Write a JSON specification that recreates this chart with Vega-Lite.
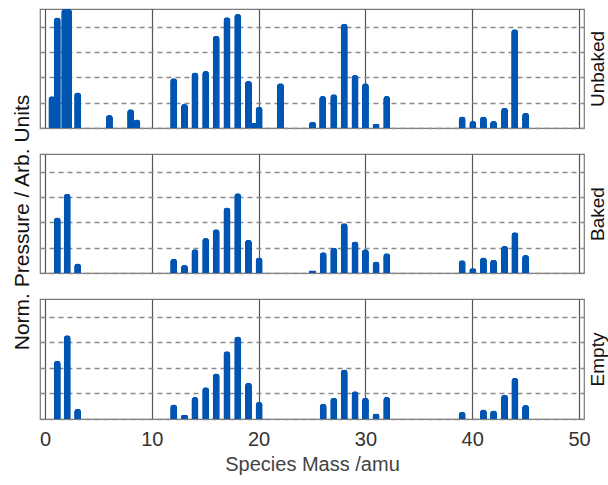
{
  "$schema": "https://vega.github.io/schema/vega-lite/v6.json",
  "padding": {"left": 10, "top": 8, "right": 0, "bottom": 0},
  "background": "white",
  "spacing": 26,
  "bounds": "flush",
  "config": {
    "font": "Liberation Sans",
    "view": {"stroke": "#7a7a7a", "strokeWidth": 1.2},
    "axis": {"labelFont": "Liberation Sans", "titleFont": "Liberation Sans", "titleFontWeight": "normal"},
    "bar": {"width": 7, "color": "#0055b3", "cornerRadiusTopLeft": 3.5, "cornerRadiusTopRight": 3.5}
  },
  "datasets": {
    "unbaked": [
      {"mass": 0.65, "p": 1.25},
      {"mass": 1.15, "p": 4.36},
      {"mass": 1.85, "p": 4.7},
      {"mass": 2.2, "p": 4.7},
      {"mass": 3.06, "p": 1.4},
      {"mass": 6.03, "p": 0.51},
      {"mass": 8.02, "p": 0.74},
      {"mass": 8.6, "p": 0.34},
      {"mass": 12.05, "p": 1.96},
      {"mass": 13.06, "p": 0.95},
      {"mass": 14.04, "p": 2.19},
      {"mass": 15.05, "p": 2.25},
      {"mass": 16.03, "p": 3.64},
      {"mass": 17.04, "p": 4.37},
      {"mass": 18.05, "p": 4.5},
      {"mass": 19.05, "p": 1.86},
      {"mass": 19.5, "p": 0.2},
      {"mass": 20.05, "p": 0.84},
      {"mass": 22.05, "p": 1.77},
      {"mass": 25.05, "p": 0.25},
      {"mass": 26.0, "p": 1.26},
      {"mass": 27.04, "p": 1.33},
      {"mass": 28.02, "p": 4.12},
      {"mass": 29.03, "p": 2.09},
      {"mass": 30.0, "p": 1.77},
      {"mass": 31.0, "p": 0.17},
      {"mass": 32.0, "p": 1.26},
      {"mass": 39.06, "p": 0.45},
      {"mass": 40.06, "p": 0.28},
      {"mass": 41.05, "p": 0.45},
      {"mass": 42.0, "p": 0.28},
      {"mass": 43.03, "p": 0.8},
      {"mass": 43.98, "p": 3.9},
      {"mass": 45.0, "p": 0.6}
    ],
    "baked": [
      {"mass": 1.15, "p": 2.19},
      {"mass": 2.08, "p": 3.13},
      {"mass": 3.06, "p": 0.38},
      {"mass": 12.05, "p": 0.56},
      {"mass": 13.06, "p": 0.32},
      {"mass": 14.04, "p": 0.94},
      {"mass": 15.05, "p": 1.38},
      {"mass": 16.03, "p": 1.73},
      {"mass": 17.04, "p": 2.59},
      {"mass": 18.05, "p": 3.15},
      {"mass": 19.05, "p": 1.31},
      {"mass": 20.05, "p": 0.61},
      {"mass": 25.05, "p": 0.1},
      {"mass": 26.05, "p": 0.82},
      {"mass": 27.04, "p": 1.0},
      {"mass": 28.02, "p": 1.96},
      {"mass": 29.03, "p": 1.24},
      {"mass": 30.0, "p": 0.94},
      {"mass": 31.0, "p": 0.45},
      {"mass": 32.0, "p": 0.78},
      {"mass": 39.06, "p": 0.5},
      {"mass": 40.06, "p": 0.19},
      {"mass": 41.05, "p": 0.61},
      {"mass": 42.0, "p": 0.52},
      {"mass": 43.03, "p": 1.07},
      {"mass": 44.0, "p": 1.61},
      {"mass": 45.0, "p": 0.71}
    ],
    "empty": [
      {"mass": 1.15, "p": 2.28},
      {"mass": 2.08, "p": 3.28},
      {"mass": 3.06, "p": 0.4},
      {"mass": 12.05, "p": 0.57},
      {"mass": 13.06, "p": 0.17},
      {"mass": 14.04, "p": 0.86},
      {"mass": 15.05, "p": 1.24},
      {"mass": 16.03, "p": 1.78},
      {"mass": 17.04, "p": 2.65},
      {"mass": 18.05, "p": 3.23},
      {"mass": 19.05, "p": 1.42},
      {"mass": 20.05, "p": 0.67},
      {"mass": 26.05, "p": 0.6},
      {"mass": 27.04, "p": 0.83},
      {"mass": 28.02, "p": 1.94},
      {"mass": 29.03, "p": 1.09},
      {"mass": 30.0, "p": 0.83},
      {"mass": 31.0, "p": 0.22},
      {"mass": 32.0, "p": 0.86},
      {"mass": 39.06, "p": 0.28},
      {"mass": 41.05, "p": 0.37},
      {"mass": 42.0, "p": 0.33},
      {"mass": 43.03, "p": 0.95},
      {"mass": 44.0, "p": 1.61},
      {"mass": 45.0, "p": 0.55}
    ]
  },
  "vconcat": [
    {
      "data": {"name": "unbaked"},
      "width": 544,
      "height": 119,
      "resolve": {"axis": {"y": "independent"}},
      "layer": [
        {
          "mark": "bar",
          "encoding": {
            "x": {"field": "mass", "type": "quantitative", "scale": {"domain": [0, 50], "nice": false},
              "axis": {"title": null, "values": [0, 10, 20, 30, 40, 50], "grid": true, "gridColor": "#555", "gridWidth": 1.2, "gridOpacity": 1, "domain": false, "ticks": false, "labels": false}},
            "y": {"field": "p", "type": "quantitative", "scale": {"domain": [0, 4.7], "nice": false},
              "axis": {"title": null, "values": [0, 1, 2, 3, 4], "grid": true, "gridDash": [5, 4], "gridColor": "#8a8a8a", "gridWidth": 1.3, "gridOpacity": 1, "domain": false, "ticks": false, "labels": false}}
          }
        },
        {
          "mark": "bar",
          "encoding": {
            "x": {"field": "mass", "type": "quantitative"},
            "y": {"field": "p", "type": "quantitative",
              "axis": {"orient": "right", "title": "Unbaked", "titleAngle": -90, "titleBaseline": "top", "titleFontSize": 19, "titleColor": "#111", "titlePadding": 4, "grid": false, "domain": false, "ticks": false, "labels": false}}
          }
        }
      ]
    },
    {
      "data": {"name": "baked"},
      "width": 544,
      "height": 119,
      "resolve": {"axis": {"y": "independent"}},
      "layer": [
        {
          "mark": "bar",
          "encoding": {
            "x": {"field": "mass", "type": "quantitative", "scale": {"domain": [0, 50], "nice": false},
              "axis": {"title": null, "values": [0, 10, 20, 30, 40, 50], "grid": true, "gridColor": "#555", "gridWidth": 1.2, "gridOpacity": 1, "domain": false, "ticks": false, "labels": false}},
            "y": {"field": "p", "type": "quantitative", "scale": {"domain": [0, 4.7], "nice": false},
              "axis": {"title": "Norm. Pressure / Arb. Units", "titleColor": "#111", "titleFontSize": 21, "titlePadding": 8, "titleY": 68, "values": [0, 1, 2, 3, 4], "grid": true, "gridDash": [5, 4], "gridColor": "#8a8a8a", "gridWidth": 1.3, "gridOpacity": 1, "domain": false, "ticks": false, "labels": false}}
          }
        },
        {
          "mark": "bar",
          "encoding": {
            "x": {"field": "mass", "type": "quantitative"},
            "y": {"field": "p", "type": "quantitative",
              "axis": {"orient": "right", "title": "Baked", "titleAngle": -90, "titleBaseline": "top", "titleFontSize": 19, "titleColor": "#111", "titlePadding": 4, "grid": false, "domain": false, "ticks": false, "labels": false}}
          }
        }
      ]
    },
    {
      "data": {"name": "empty"},
      "width": 544,
      "height": 120,
      "resolve": {"axis": {"y": "independent"}},
      "layer": [
        {
          "mark": "bar",
          "encoding": {
            "x": {"field": "mass", "type": "quantitative", "scale": {"domain": [0, 50], "nice": false},
              "axis": {"title": "Species Mass /amu", "values": [0, 10, 20, 30, 40, 50], "grid": true, "gridColor": "#555", "gridWidth": 1.2, "gridOpacity": 1, "domain": false, "ticks": false, "labelFontSize": 20, "labelColor": "#333", "labelPadding": 10, "titleFontSize": 20, "titleColor": "#444", "titlePadding": 5}},
            "y": {"field": "p", "type": "quantitative", "scale": {"domain": [0, 4.7], "nice": false},
              "axis": {"title": null, "values": [0, 1, 2, 3, 4], "grid": true, "gridDash": [5, 4], "gridColor": "#8a8a8a", "gridWidth": 1.3, "gridOpacity": 1, "domain": false, "ticks": false, "labels": false}}
          }
        },
        {
          "mark": "bar",
          "encoding": {
            "x": {"field": "mass", "type": "quantitative"},
            "y": {"field": "p", "type": "quantitative",
              "axis": {"orient": "right", "title": "Empty", "titleAngle": -90, "titleBaseline": "top", "titleFontSize": 19, "titleColor": "#111", "titlePadding": 4, "grid": false, "domain": false, "ticks": false, "labels": false}}
          }
        }
      ]
    }
  ]
}
